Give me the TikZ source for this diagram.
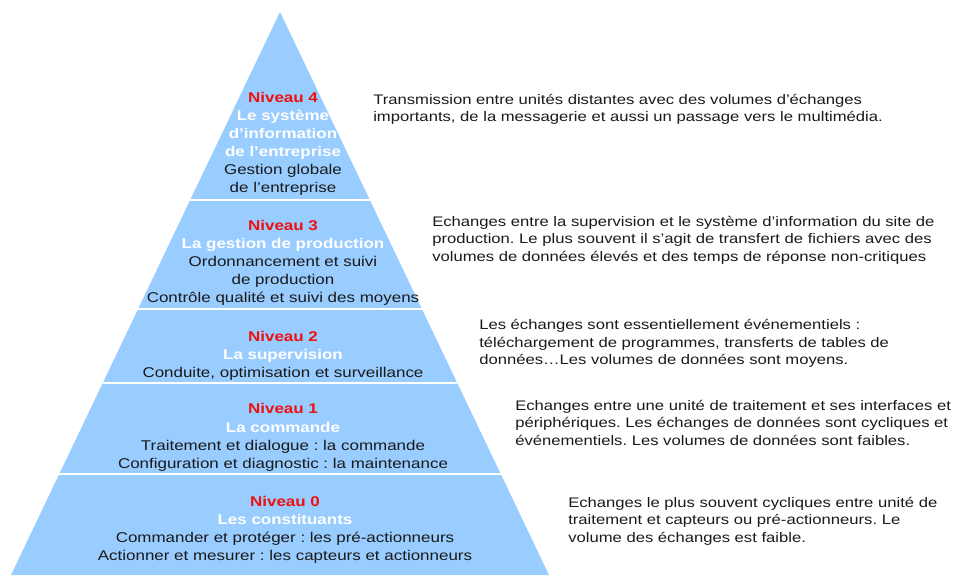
\documentclass[tikz,border=0pt]{standalone}
\usepackage{fontspec}
\setmainfont{Liberation Sans}[FakeStretch=1.2]
\usepackage{xcolor}
\usepackage{tikz}
\usetikzlibrary{positioning}
\definecolor{pyramid}{HTML}{99CCFF}
\definecolor{title}{HTML}{F01010}
\definecolor{ink}{HTML}{1A1A1A}
\newcommand{\niv}[1]{\textcolor{title}{\textbf{#1}}}
\newcommand{\nom}[1]{\textcolor{white}{\textbf{#1}}}
\frenchspacing

\begin{document}
\begin{tikzpicture}[
  x=0.75pt, y=-0.75pt,
  level/.style={
    align=center, inner sep=0pt, text=ink,
    font=\fontsize{10.6}{13.6}\selectfont,
  },
  desc/.style={
    anchor=west, align=left, inner sep=0pt, text=ink,
    font=\fontsize{10.4}{13.1}\selectfont,
  },
  band/.style={draw=white, line width=1.5pt},
]
\useasboundingbox (0,0) rectangle (956,575);
\fill[pyramid] (280,12) -- (549,575) -- (11,575) -- cycle;
\foreach \yy in {200,309,383,474}
  \draw[band] ({280-0.478*(\yy-12)},\yy) -- ({280+0.478*(\yy-12)},\yy);

\node[level] (niv4) at (283,144) {\niv{Niveau 4}\\\nom{Le système}\\\nom{d’information}\\\nom{de l’entreprise}\\Gestion globale\\de l’entreprise};
\node[level] (niv3) at (283,263) {\niv{Niveau 3}\\\nom{La gestion de production}\\Ordonnancement et suivi\\de production\\Contrôle qualité et suivi des moyens};
\node[level] (niv2) at (283,355.5) {\niv{Niveau 2}\\\nom{La supervision}\\Conduite, optimisation et surveillance};
\node[level] (niv1) at (283,437.5) {\niv{Niveau 1}\\\nom{La commande}\\Traitement et dialogue : la commande\\Configuration et diagnostic : la maintenance};
\node[level] (niv0) at (285,530) {\niv{Niveau 0}\\\nom{Les constituants}\\Commander et protéger : les pré-actionneurs\\Actionner et mesurer : les capteurs et actionneurs};

\node[desc] (desc4) at (373,109.5) {Transmission entre unités distantes avec des volumes d’échanges\\importants, de la messagerie et aussi un passage vers le multimédia.};
\node[desc] (desc3) at (432,240) {Echanges entre la supervision et le système d’information du site de\\production. Le plus souvent il s’agit de transfert de fichiers avec des\\volumes de données élevés et des temps de réponse non-critiques};
\node[desc] (desc2) at (479,343.5) {Les échanges sont essentiellement événementiels :\\téléchargement de programmes, transferts de tables de\\données…Les volumes de données sont moyens.};
\node[desc] (desc1) at (515,422.5) {Echanges entre une unité de traitement et ses interfaces et\\périphériques. Les échanges de données sont cycliques et\\événementiels. Les volumes de données sont faibles.};
\node[desc] (desc0) at (568,521) {Echanges le plus souvent cycliques entre unité de\\traitement et capteurs ou pré-actionneurs. Le\\volume des échanges est faible.};
\end{tikzpicture}
\end{document}
